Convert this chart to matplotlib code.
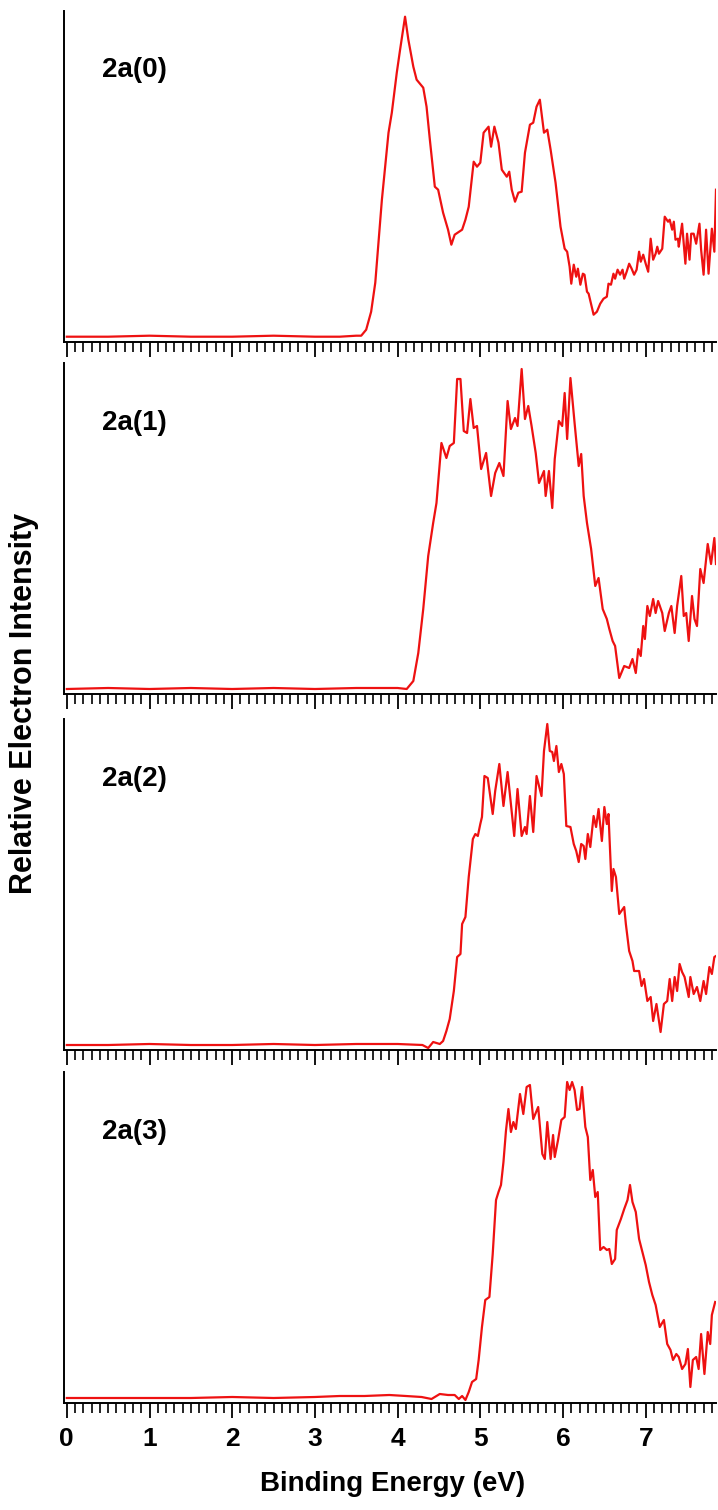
import matplotlib
matplotlib.use("Agg")
import matplotlib.pyplot as plt
from matplotlib.ticker import MultipleLocator

plt.rcParams["font.family"] = ["Liberation Sans", "DejaVu Sans"]
plt.rcParams["font.weight"] = "bold"

# binding energy (eV) and relative intensity
be_0 = [0, 0.5, 1.0, 1.5, 2.0, 2.5, 3.0, 3.3, 3.5,
        3.56, 3.62, 3.68, 3.73, 3.81, 3.89, 3.93, 3.99, 4.03, 4.09,
        4.13, 4.19, 4.23, 4.31, 4.35, 4.39, 4.45, 4.49, 4.55, 4.61,
        4.65, 4.69, 4.78, 4.82, 4.86, 4.92, 4.96, 5.00, 5.04, 5.10,
        5.13, 5.17, 5.22, 5.26, 5.32, 5.35, 5.38, 5.42, 5.46, 5.50,
        5.54, 5.60, 5.64, 5.68, 5.72, 5.77, 5.81, 5.85, 5.91, 5.97,
        6.02, 6.05, 6.08, 6.10, 6.13, 6.16, 6.18, 6.21, 6.24, 6.26,
        6.29, 6.31, 6.37, 6.41, 6.45, 6.49, 6.53, 6.55, 6.58, 6.61,
        6.63, 6.66, 6.69, 6.72, 6.74, 6.77, 6.80, 6.83, 6.86, 6.89,
        6.92, 6.94, 6.97, 7.00, 7.03, 7.06, 7.09, 7.12, 7.14, 7.16,
        7.20, 7.23, 7.27, 7.29, 7.32, 7.34, 7.36, 7.39, 7.40, 7.44,
        7.48, 7.50, 7.53, 7.55, 7.58, 7.61, 7.65, 7.67, 7.70, 7.73,
        7.76, 7.80, 7.83, 7.85]
int_0 = [5, 5, 6, 5, 5, 6, 5, 5, 6,
         6, 12, 30, 59, 142, 209, 229, 269, 292, 325,
         302, 275, 262, 254, 235, 202, 155, 152, 129, 112,
         97, 107, 112, 122, 135, 180, 175, 179, 209, 215,
         195, 215, 199, 172, 165, 170, 152, 140, 149, 150,
         189, 217, 219, 235, 242, 209, 212, 192, 159, 115,
         93, 90, 75, 58, 77, 65, 73, 57, 68, 67,
         50, 48, 27, 30, 38, 43, 45, 58, 57, 68,
         63, 72, 67, 72, 63, 70, 78, 73, 67, 72,
         90, 80, 87, 78, 70, 103, 82, 88, 95, 88,
         93, 125, 120, 122, 112, 120, 102, 103, 95, 118,
         78, 108, 82, 108, 108, 98, 118, 92, 67, 112,
         68, 113, 90, 152]

be_1 = [0, 0.5, 1.0, 1.5, 2.0, 2.5, 3.0, 3.5, 4.0, 4.11,
        4.19, 4.25, 4.31, 4.37, 4.43, 4.47, 4.53, 4.59, 4.63, 4.68,
        4.72, 4.76, 4.80, 4.84, 4.88, 4.92, 4.96, 5.01, 5.07, 5.13,
        5.18, 5.23, 5.28, 5.33, 5.37, 5.42, 5.45, 5.50, 5.54, 5.58,
        5.62, 5.67, 5.71, 5.77, 5.79, 5.83, 5.87, 5.90, 5.95, 5.99,
        6.02, 6.05, 6.09, 6.14, 6.19, 6.22, 6.25, 6.29, 6.34, 6.39,
        6.43, 6.48, 6.53, 6.56, 6.60, 6.63, 6.68, 6.74, 6.80, 6.84,
        6.88, 6.91, 6.94, 6.97, 6.99, 7.02, 7.05, 7.09, 7.12, 7.15,
        7.20, 7.23, 7.28, 7.31, 7.35, 7.38, 7.43, 7.46, 7.49, 7.52,
        7.56, 7.59, 7.62, 7.66, 7.70, 7.75, 7.79, 7.83, 7.85]
int_1 = [5, 6, 5, 6, 5, 6, 5, 6, 6, 5,
         13, 41, 85, 138, 171, 191, 251, 236, 248, 251,
         315, 315, 263, 261, 295, 266, 268, 225, 241, 198,
         221, 231, 218, 293, 265, 276, 268, 325, 275, 288,
         268, 241, 211, 223, 198, 223, 186, 235, 273, 268,
         301, 255, 316, 271, 228, 240, 198, 171, 145, 108,
         116, 85, 75, 65, 53, 48, 16, 28, 26, 35,
         21, 45, 38, 68, 55, 88, 78, 95, 81, 93,
         81, 63, 81, 88, 61, 88, 118, 78, 81, 53,
         98, 75, 68, 125, 111, 150, 130, 156, 130]

be_2 = [0, 0.5, 1.0, 1.5, 2.0, 2.5, 3.0, 3.5, 4.0, 4.3,
        4.37, 4.43, 4.51, 4.55, 4.59, 4.63, 4.68, 4.72, 4.76, 4.78,
        4.82, 4.86, 4.91, 4.94, 4.97, 5.00, 5.02, 5.05, 5.09, 5.15,
        5.18, 5.23, 5.28, 5.33, 5.37, 5.41, 5.45, 5.50, 5.54, 5.56,
        5.60, 5.64, 5.68, 5.74, 5.77, 5.81, 5.84, 5.87, 5.89, 5.92,
        5.95, 5.98, 6.01, 6.04, 6.09, 6.13, 6.16, 6.19, 6.22, 6.25,
        6.27, 6.30, 6.33, 6.37, 6.40, 6.43, 6.47, 6.50, 6.53, 6.55,
        6.59, 6.61, 6.64, 6.68, 6.74, 6.76, 6.80, 6.84, 6.86, 6.92,
        6.95, 6.98, 7.02, 7.06, 7.09, 7.13, 7.18, 7.22, 7.26, 7.29,
        7.32, 7.35, 7.38, 7.41, 7.44, 7.47, 7.52, 7.54, 7.58, 7.62,
        7.66, 7.70, 7.73, 7.77, 7.80, 7.83, 7.85]
int_2 = [5, 5, 6, 5, 5, 6, 5, 6, 6, 5,
         2, 8, 6, 9, 19, 31, 59, 93, 96, 126,
         133, 173, 211, 216, 214, 226, 233, 274, 272, 236,
         259, 286, 244, 278, 246, 214, 261, 214, 223, 216,
         254, 218, 274, 254, 299, 326, 299, 298, 289, 304,
         278, 286, 276, 224, 223, 206, 199, 188, 206, 204,
         191, 216, 203, 234, 223, 241, 209, 243, 226, 236,
         159, 181, 173, 136, 143, 126, 99, 89, 79, 79,
         64, 71, 49, 53, 29, 46, 18, 46, 49, 71,
         49, 73, 59, 86, 78, 73, 53, 73, 56, 63,
         49, 69, 56, 83, 76, 93, 94]

be_3 = [0, 0.5, 1.0, 1.5, 2.0, 2.5, 3.0, 3.3, 3.6, 3.9,
        4.1, 4.29, 4.41, 4.51, 4.61, 4.69, 4.74, 4.78, 4.82, 4.86,
        4.90, 4.95, 4.98, 5.02, 5.06, 5.11, 5.15, 5.19, 5.22, 5.25,
        5.28, 5.31, 5.34, 5.37, 5.40, 5.43, 5.48, 5.52, 5.56, 5.60,
        5.64, 5.70, 5.75, 5.78, 5.81, 5.85, 5.88, 5.90, 5.94, 5.98,
        6.02, 6.05, 6.08, 6.11, 6.14, 6.17, 6.20, 6.23, 6.27, 6.30,
        6.33, 6.36, 6.39, 6.42, 6.45, 6.49, 6.53, 6.56, 6.59, 6.63,
        6.65, 6.70, 6.74, 6.78, 6.81, 6.84, 6.88, 6.92, 6.96, 7.00,
        7.04, 7.08, 7.12, 7.17, 7.22, 7.26, 7.30, 7.33, 7.37, 7.40,
        7.44, 7.48, 7.51, 7.54, 7.57, 7.61, 7.64, 7.67, 7.71, 7.75,
        7.78, 7.80, 7.84]
int_3 = [5, 5, 5, 5, 6, 5, 6, 7, 7, 8,
         7, 6, 4, 9, 8, 8, 4, 7, 3, 11,
         21, 24, 43, 76, 103, 106, 149, 203, 211, 218,
         241, 272, 294, 271, 281, 274, 309, 289, 316, 318,
         284, 296, 249, 244, 281, 244, 268, 246, 263, 283,
         286, 321, 313, 321, 313, 293, 294, 316, 276, 266,
         223, 233, 206, 211, 153, 156, 153, 154, 139, 144,
         173, 184, 194, 203, 218, 201, 191, 164, 151, 138,
         121, 108, 98, 76, 83, 59, 53, 43, 49, 46,
         34, 39, 54, 16, 43, 46, 34, 69, 29, 71,
         59, 88, 101]

spectra = [(be_0, int_0), (be_1, int_1), (be_2, int_2), (be_3, int_3)]
panel_labels = ["2a(0)", "2a(1)", "2a(2)", "2a(3)"]

W, H = 718, 1510
fig = plt.figure(figsize=(W / 100, H / 100), dpi=100)

left_px, right_px = 63.5, 716
bottoms_px = [341.7, 694, 1050, 1403]
panel_h = 331

for i, ((be, inten), lab) in enumerate(zip(spectra, panel_labels)):
    ax = fig.add_axes([left_px / W, 1 - bottoms_px[i] / H,
                       (right_px - left_px) / W, panel_h / H])
    ax.plot(be, inten, color="#ee1111", lw=1.6)
    ax.set_xlim(-0.04, 7.85)
    ax.set_ylim(0, 331)

    for s in ["top", "right"]:
        ax.spines[s].set_visible(False)
    ax.spines["left"].set_linewidth(1.4)
    ax.spines["bottom"].set_linewidth(1.4)

    ax.set_yticks([])
    ax.xaxis.set_major_locator(MultipleLocator(1))
    ax.xaxis.set_minor_locator(MultipleLocator(0.1))
    ax.tick_params(axis="x", which="major", direction="out", length=11,
                   width=1.3, pad=6, labelsize=19)
    ax.tick_params(axis="x", which="minor", direction="out", length=7,
                   width=1.2)
    if i < 3:
        ax.tick_params(axis="x", labelbottom=False)

    ax.text(0.059, 0.82, lab, transform=ax.transAxes, fontsize=20,
            fontweight="bold", ha="left", va="center")

fig.text(393 / W, 1 - 1484 / H, "Binding Energy (eV)", fontsize=20,
         fontweight="bold", ha="center", va="center")
fig.text(24 / W, 1 - 703 / H, "Relative Electron Intensity", fontsize=22,
         fontweight="bold", ha="center", va="center", rotation=90)

plt.savefig("out.png", dpi=100)
